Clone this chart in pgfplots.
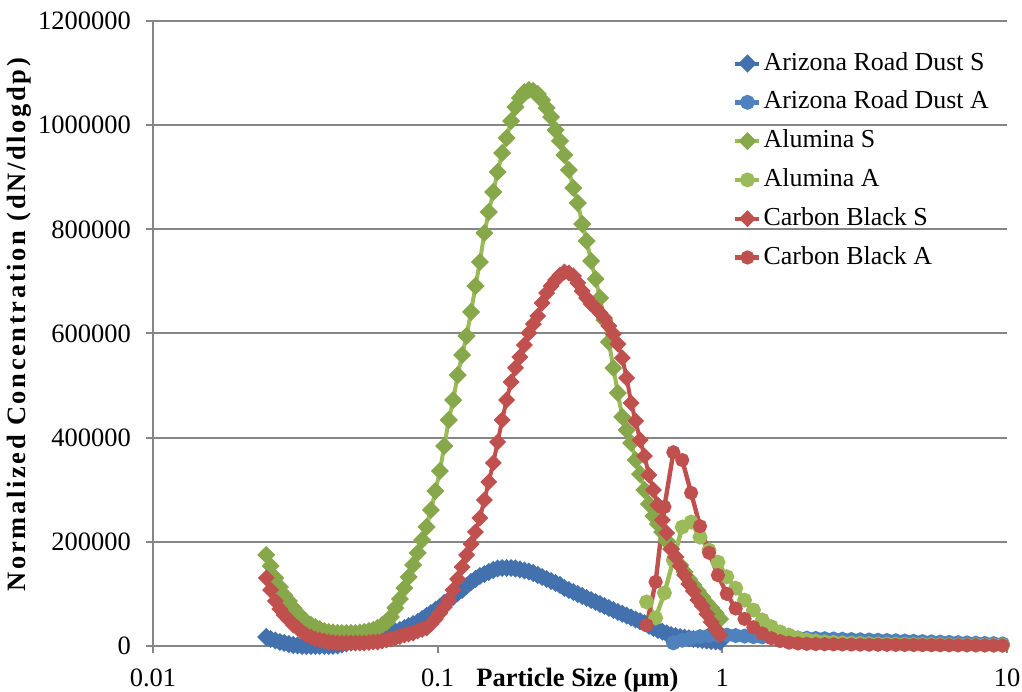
\documentclass[border=0pt]{standalone}
\usepackage{fontspec}
\setmainfont{Liberation Serif}
\usepackage{pgfplots}
\usepackage{pgfplotstable}
\pgfplotsset{compat=1.18}

\definecolor{gridgray}{HTML}{868686}
\definecolor{ardS}{HTML}{4271AE}
\definecolor{ardA}{HTML}{4F81BD}
\definecolor{aluS}{HTML}{86A84A}
\definecolor{aluL}{HTML}{9BBB59}
\definecolor{cbR}{HTML}{C0504D}

% SMPS channels (S): d [um], Arizona road dust, alumina, carbon black
\pgfplotstableread{
d ards alus cbs
0.0250 17300 175000 130600
0.0259 13400 153600 107500
0.0269 10600 130600 86400
0.0279 7700 113300 71000
0.0289 5800 97900 59500
0.0300 3800 86400 49900
0.0311 1900 73000 40300
0.0322 1000 63400 34600
0.0334 0 53800 26900
0.0346 0 46100 21100
0.0359 0 40300 17300
0.0372 0 36500 13400
0.0385 0 32600 11500
0.0400 0 28800 9600
0.0414 0 26900 7700
0.0429 500 25900 6700
0.0445 1000 25000 5800
0.0461 2900 25000 5800
0.0478 4800 25000 5800
0.0496 6700 25000 5800
0.0514 7700 25000 5800
0.0533 9600 25900 5800
0.0552 11500 26900 5800
0.0573 13400 28800 6700
0.0594 15400 30700 7700
0.0615 18200 34600 7700
0.0638 21100 40300 9600
0.0661 23000 46100 11500
0.0685 25000 55700 13400
0.0710 27800 73000 15400
0.0737 30700 90200 18200
0.0764 34600 111400 21100
0.0791 38400 132500 23000
0.0820 42200 155500 25000
0.0851 46100 178600 28800
0.0882 51800 203500 31700
0.0914 57600 228500 34600
0.0947 63400 261100 42200
0.0982 69100 297600 51800
0.1018 74900 336000 63400
0.1055 82600 384000 74900
0.1094 88300 433900 88300
0.1134 94100 472300 107500
0.1176 101800 520300 128600
0.1219 107500 558700 151700
0.1263 115200 595200 174700
0.1310 122900 641300 195800
0.1358 128600 691200 218900
0.1407 134400 737300 245800
0.1459 138200 793000 280300
0.1512 142100 833300 314900
0.1568 145900 871700 351400
0.1625 148800 910100 391700
0.1685 149800 946600 433900
0.1747 149800 975400 472300
0.1811 149800 1008000 506900
0.1877 148800 1034900 533800
0.1946 146900 1052200 554900
0.2017 145000 1063700 577900
0.2091 143000 1067500 601000
0.2167 140200 1065600 618200
0.2247 136300 1059800 633600
0.2329 132500 1048300 658600
0.2414 128600 1033000 677800
0.2503 124800 1015700 691200
0.2595 121000 990700 702700
0.2690 117100 969600 712300
0.2788 111400 942700 718100
0.2890 107500 913900 716200
0.2996 103700 879400 710400
0.3106 99800 850600 697000
0.3220 96000 810200 681600
0.3338 92200 777600 668200
0.3460 88300 739200 656600
0.3587 84500 704600 649000
0.3718 80600 668200 639400
0.3854 76800 625900 629800
0.3995 73000 583700 614400
0.4142 69100 533800 599000
0.4294 65300 485800 579800
0.4451 62000 440000 553000
0.4614 58400 414700 514600
0.4783 54700 389800 466600
0.4958 50900 357100 432000
0.5140 47400 330200 395500
0.5328 43800 299500 364800
0.5523 38800 272600 328300
0.5725 34600 249600 299500
0.5935 30700 234200 270700
0.6153 27500 218900 241900
0.6378 24000 201600 217000
0.6612 21100 186200 186200
0.6854 19200 170900 170900
0.7105 17300 155500 153600
0.7365 15900 142100 136300
0.7635 14800 128600 119000
0.7915 13400 117100 105600
0.8205 12500 105600 88300
0.8505 11500 94100 76800
0.8817 10600 82600 61400
0.9140 9600 73000 46100
0.9475 9000 63400 32600
0.9822 8400 51800 21100
}\smps

% APS channels (A)
\pgfplotstableread{
d arda alua cba
0.542 nan 84500 40000
0.583 nan 53800 123000
0.626 nan 101800 267000
0.673 6000 165000 372000
0.723 11000 228500 357000
0.777 15000 238000 294000
0.835 18000 209000 230000
0.898 20000 184000 179000
0.965 21000 161000 136000
1.037 21000 133000 100000
1.114 20000 111000 72000
1.197 19000 88000 52000
1.286 18000 69000 36000
1.382 17500 50000 24000
1.486 17000 37000 15000
1.596 16500 27000 9500
1.715 16000 21000 6500
1.843 15500 15000 5000
1.981 15000 12000 4200
2.129 14500 9500 3800
2.288 14000 8000 3500
2.458 13500 7000 3200
2.642 13000 6000 3000
2.839 12500 5500 2800
3.051 12000 5000 2600
3.278 11500 4500 2500
3.523 11000 4000 2400
3.786 10500 3800 2300
4.068 10000 3500 2200
4.371 9500 3300 2100
4.698 9000 3000 2000
5.048 8500 2800 1900
5.425 8000 2600 1800
5.829 7500 2400 1700
6.264 7000 2200 1600
6.732 6500 2000 1500
7.234 6000 1900 1400
7.774 5500 1800 1300
8.354 5000 1700 1200
8.977 4500 1600 1100
9.647 4000 1500 1000
}\aps

\begin{document}
\begin{tikzpicture}
\begin{axis}[
    at={(0,0)}, anchor=south west,
    scale only axis, width=427bp, height=312.5bp,
    xmode=log, xmin=0.01, xmax=10,
    ymin=0, ymax=1200000,
    scaled y ticks=false,
    xtick={0.01,0.1,1,10}, xticklabels={0.01,0.1,1,10},
    xminorticks=false,
    ytick={0,200000,400000,600000,800000,1000000,1200000},
    yticklabels={0,200000,400000,600000,800000,1000000,1200000},
    axis x line*=bottom, axis y line*=left,
    axis line style={gridgray, line width=1bp, -},
    ymajorgrids, major grid style={gridgray, line width=1bp},
    tick align=outside, major tick length=3.5bp,
    tick style={gridgray, line width=1bp},
    tick label style={font=\fontsize{13.3}{15}\selectfont},
    xticklabel style={yshift=-4.5bp},
    yticklabel style={xshift=-4bp},
    xlabel={Particle Size (\textmu m)},
    xlabel style={at={([yshift=-20bp]rel axis cs:0.497,0)}, anchor=base,
        font=\bfseries\fontsize{13.3}{15}\selectfont},
    ylabel={Normalized Concentration (dN/dlogdp)},
    ylabel style={at={([xshift=-67bp]rel axis cs:0,0.514)}, anchor=center,
        font=\bfseries\fontsize{13.3}{15}\selectfont\addfontfeature{LetterSpace=10}},
    clip=false,
    legend style={draw=none, fill=none, at={(rel axis cs:0.672,0.959)}, anchor=north west,
        font=\fontsize{13}{15}\selectfont, row sep=6.9bp, column sep=1bp,
        nodes={inner sep=0bp, text height=9.5bp, text depth=3bp}},
    legend cell align=left,
    legend image code/.code={\draw[mark repeat=2,mark phase=2,#1] plot coordinates {(0bp,0bp) (6bp,0bp) (12bp,0bp)};},
]
\addplot[ardS, line width=2bp, mark=square*, mark size=2.2bp, mark options={solid, rotate=45, fill=ardS}] table[x=d, y=ards] {\smps};
\addlegendentry{Arizona Road Dust S}
\addplot[ardA, line width=2.2bp, mark=*, mark size=2.6bp, mark options={solid, fill=ardA}] table[x=d, y=arda] {\aps};
\addlegendentry{Arizona Road Dust A}
\addplot[aluL, line width=2bp, mark=square*, mark size=2.2bp, mark options={solid, rotate=45, draw=aluS, fill=aluS}] table[x=d, y=alus] {\smps};
\addlegendentry{Alumina S}
\addplot[aluL, line width=2.2bp, mark=*, mark size=2.6bp, mark options={solid, fill=aluL}] table[x=d, y=alua] {\aps};
\addlegendentry{Alumina A}
\addplot[cbR, line width=2bp, mark=square*, mark size=2bp, mark options={solid, rotate=45, fill=cbR}] table[x=d, y=cbs] {\smps};
\addlegendentry{Carbon Black S}
\addplot[cbR, line width=2.2bp, mark=*, mark size=2.4bp, mark options={solid, fill=cbR}] table[x=d, y=cba] {\aps};
\addlegendentry{Carbon Black A}
\end{axis}
\pgfresetboundingbox
\path (-76.5bp,-23bp) rectangle (434.5bp,323bp);
\end{tikzpicture}
\end{document}
